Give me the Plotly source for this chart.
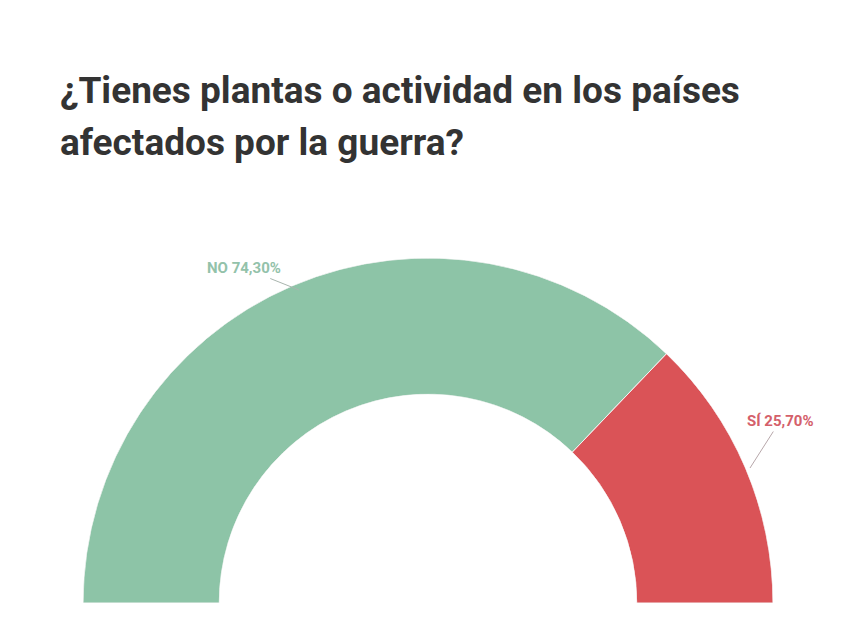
import plotly.graph_objects as go

categories = ["NO", "SÍ"]
values = [74.30, 25.70]
colors = ["#8dc4a7", "#da5357"]
label_colors = ["#93c2aa", "#d4606a"]
title_lines = ["¿Tienes plantas o actividad en los países", "afectados por la guerra?"]

# convert shares to angular spans on a half circle (180 degrees), starting at left
total = sum(values)
spans = [v / total * 180 for v in values]
thetas = []
start = 180.0
for s in spans:
    thetas.append(start - s / 2)
    start -= s

fig = go.Figure()
fig.add_trace(go.Barpolar(
    r=[1] * len(values),
    theta=thetas,
    width=spans,
    marker=dict(color=colors, line=dict(color="#f4f4f4", width=1)),
    hoverinfo="skip",
    showlegend=False,
))

W, H = 854, 640
def px(x):
    return x / W
def py(y):
    return (H - y) / H

fig.update_layout(
    width=W, height=H,
    margin=dict(l=0, r=0, t=0, b=0),
    paper_bgcolor="white",
    plot_bgcolor="white",
    polar=dict(
        domain=dict(x=[px(81), px(775)], y=[py(603), py(258)]),
        sector=[0, 180],
        hole=0.605,
        bgcolor="white",
        radialaxis=dict(range=[0, 1], visible=False, showgrid=False),
        angularaxis=dict(visible=False, showgrid=False, rotation=0, direction="counterclockwise"),
    ),
)

for line, yc in zip(title_lines, [90, 142]):
    fig.add_annotation(
        x=px(58), y=py(yc), xref="paper", yref="paper",
        xanchor="left", yanchor="middle", showarrow=False, text=line,
        font=dict(family="Roboto", size=37, color="#333333", weight="bold"),
    )

labels = [f"{c} {v:.2f}%".replace(".", ",") for c, v in zip(categories, values)]
fig.add_annotation(
    x=px(299), y=py(290), xref="paper", yref="paper",
    ax=-55, ay=-22, text=labels[0], showarrow=True, arrowhead=0,
    arrowwidth=1, arrowcolor="#a9b5ae",
    font=dict(family="Roboto", size=15, color=label_colors[0], weight="bold"),
)
fig.add_annotation(
    x=px(750), y=py(468), xref="paper", yref="paper",
    ax=30, ay=-47, text=labels[1], showarrow=True, arrowhead=0,
    arrowwidth=1, arrowcolor="#b7a7aa",
    font=dict(family="Roboto", size=15, color=label_colors[1], weight="bold"),
)

fig.write_html("out.html")
